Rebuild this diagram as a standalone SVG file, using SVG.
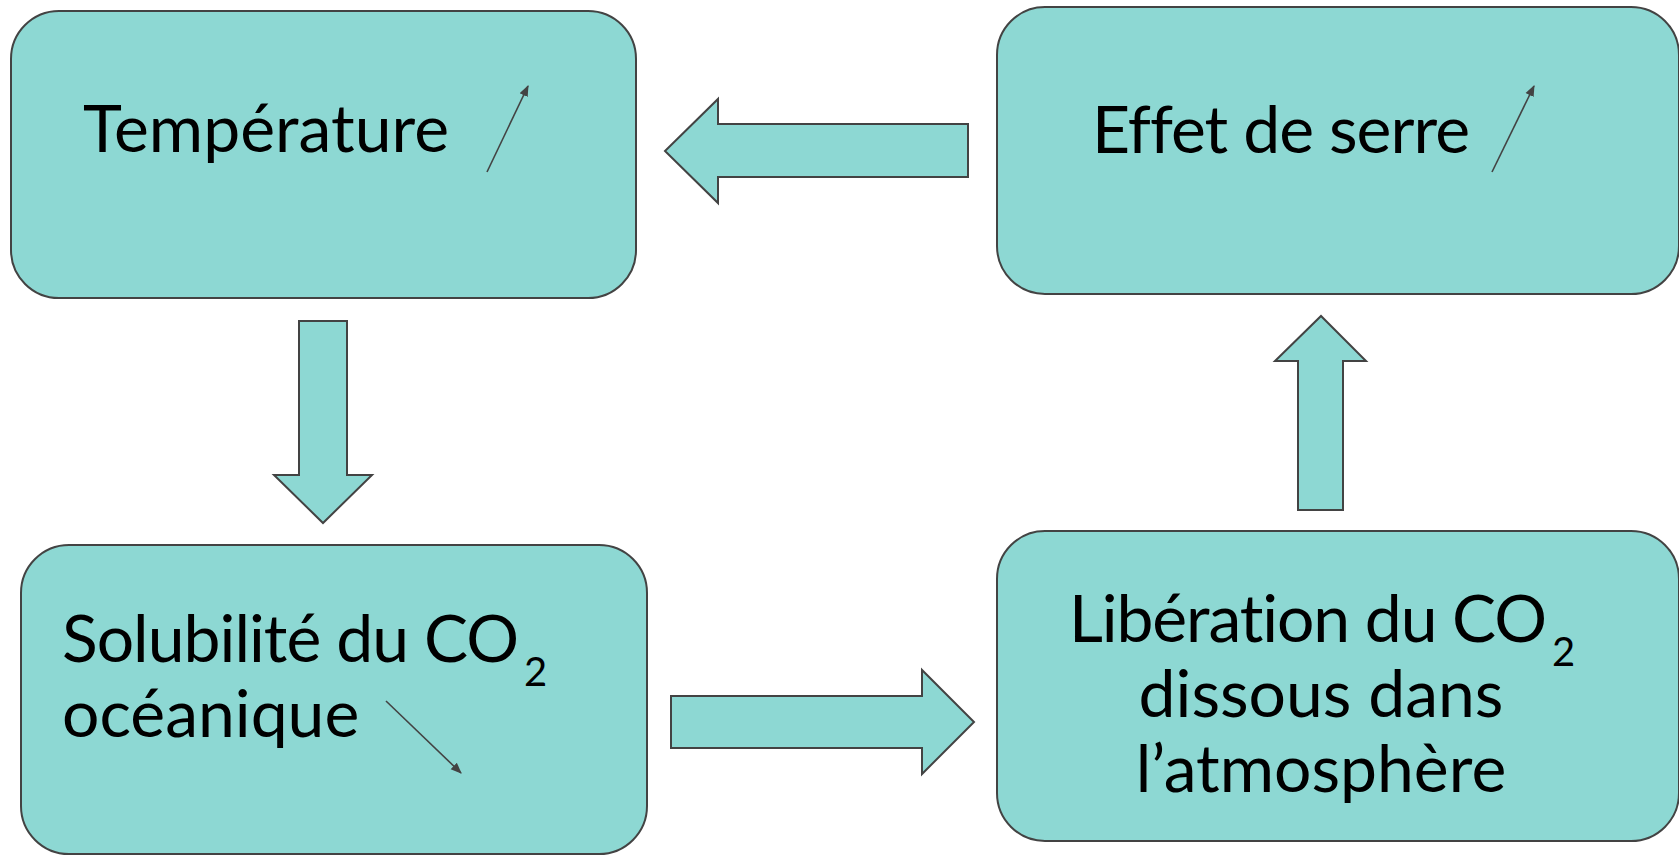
<svg xmlns="http://www.w3.org/2000/svg" width="1679" height="855" viewBox="0 0 1679 855">
  <style>
    .box { fill: #8dd8d3; stroke: #434343; stroke-width: 2; }
    .flow { fill: #8dd8d3; stroke: #434343; stroke-width: 2; stroke-linejoin: miter; }
    .lbl { font-family: Lato, "Open Sans", "Liberation Sans", sans-serif; font-size: 66px; fill: #000; font-variant-ligatures: none; font-feature-settings: "liga" 0, "clig" 0; }
    .sub { font-size: 40px; }
    .trend { stroke: #434343; stroke-width: 1.6; fill: none; marker-end: url(#tip); }
  </style>
  <defs>
    <marker id="tip" viewBox="0 0 10 10" refX="9" refY="5" markerWidth="7" markerHeight="7" markerUnits="strokeWidth" orient="auto">
      <path d="M0,1 L10,5 L0,9 Z" fill="#434343"/>
    </marker>
  </defs>

  <rect width="1679" height="855" fill="#ffffff"/>

  <!-- Température -->
  <g id="node-temperature">
    <rect class="box" x="11" y="11" width="625" height="287" rx="48" ry="48"/>
    <text class="lbl" x="83" y="152" textLength="366" lengthAdjust="spacing">Température</text>
    <line class="trend" x1="487" y1="172" x2="528" y2="86"/>
  </g>

  <!-- Effet de serre -->
  <g id="node-effet-de-serre">
    <rect class="box" x="997" y="7" width="682" height="287" rx="48" ry="48"/>
    <text class="lbl" x="1092" y="153" textLength="378" lengthAdjust="spacing">Effet de serre</text>
    <line class="trend" x1="1492" y1="172" x2="1534" y2="86"/>
  </g>

  <!-- Solubilité du CO2 océanique -->
  <g id="node-solubilite">
    <rect class="box" x="21" y="545" width="626" height="309" rx="48" ry="48"/>
    <text class="lbl" x="62" y="662" textLength="457" lengthAdjust="spacing">Solubilité du CO</text>
    <text class="lbl sub" x="524" y="685.5">2</text>
    <text class="lbl" x="62" y="737">océanique</text>
    <line class="trend" x1="386" y1="701" x2="461" y2="773"/>
  </g>

  <!-- Libération du CO2 dissous dans l'atmosphère -->
  <g id="node-liberation">
    <rect class="box" x="997" y="531" width="682" height="310" rx="48" ry="48"/>
    <text class="lbl" x="1069" y="642" textLength="478" lengthAdjust="spacing">Libération du CO</text>
    <text class="lbl sub" x="1552" y="666">2</text>
    <text class="lbl" x="1321" y="717" text-anchor="middle">dissous dans</text>
    <text class="lbl" x="1321" y="792" text-anchor="middle">l’atmosphère</text>
  </g>

  <!-- block arrows between the nodes -->
  <g id="connectors">
    <polygon class="flow" points="968,124 718,124 718,99 665,151 718,203 718,177 968,177"/>
    <polygon class="flow" points="299,321 347,321 347,475 372,475 323,523 274,475 299,475"/>
    <polygon class="flow" points="671,696 922,696 922,670 974,722 922,774 922,748 671,748"/>
    <polygon class="flow" points="1298,510 1298,361 1275,361 1321,316 1366,361 1343,361 1343,510"/>
  </g>
</svg>
